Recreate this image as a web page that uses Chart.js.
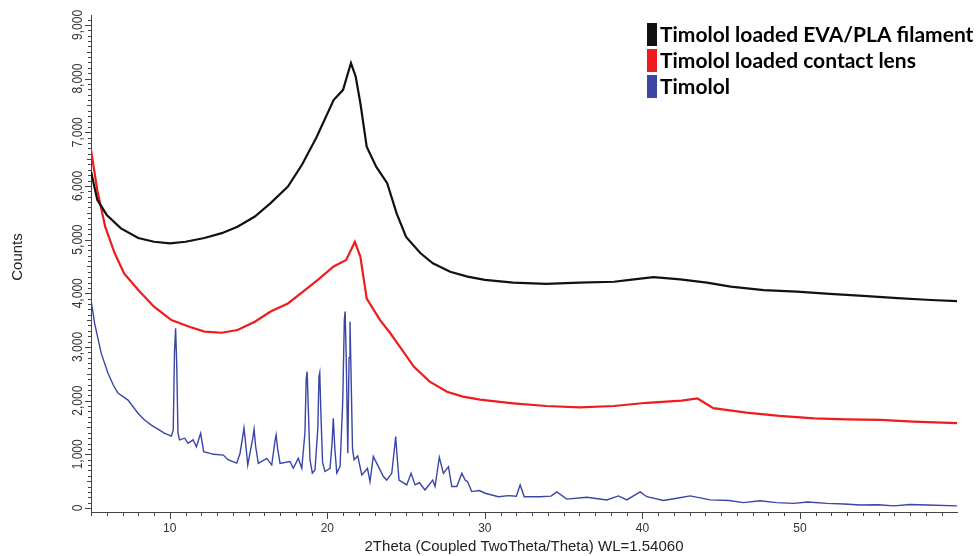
<!DOCTYPE html>
<html>
<head>
<meta charset="utf-8">
<script src="https://cdn.jsdelivr.net/npm/chart.js@4"></script>
<style>
  body { margin: 0; background: #fff; }
</style>
</head>
<body>
<canvas id="xrd" width="976" height="556"></canvas>
<script>
// values (2theta in degrees, counts)
const filamentTheta = [5, 5.4, 6, 6.9, 8, 9, 10, 11, 12.2, 13.3, 14.3, 15.4, 16.4, 17.5, 18.4, 19.3, 20.4, 21, 21.5, 21.8, 22.1, 22.5, 23.1, 23.8, 24.4, 25, 25.9, 26.7, 27.8, 28.9, 30, 31.8, 33.9, 36, 38.2, 39.2, 40.7, 42.4, 44.1, 45.6, 47.7, 49.8, 51.9, 54, 56.2, 58.3, 59.97];
const filamentCounts = [6270, 5740, 5460, 5210, 5030, 4960, 4930, 4960, 5030, 5120, 5240, 5430, 5680, 5990, 6400, 6900, 7600, 7790, 8290, 8040, 7540, 6730, 6360, 6050, 5490, 5050, 4750, 4560, 4400, 4310, 4250, 4200, 4175, 4200, 4215, 4250, 4300, 4260, 4200, 4125, 4060, 4030, 3990, 3950, 3910, 3875, 3855];

const lensTheta = [5, 5.4, 5.9, 6.5, 7.1, 8, 9, 10.1, 11.2, 12.2, 13.3, 14.3, 15.4, 16.4, 17.5, 18.5, 19.4, 20.4, 21.2, 21.75, 22.1, 22.5, 23.35, 24, 24.6, 25.5, 26.5, 27.6, 28.6, 29.7, 30.8, 31.8, 33.9, 36, 38.2, 40.3, 41.5, 42.5, 43.5, 44.5, 46.6, 48.7, 50.9, 53, 55.1, 57.2, 59.97];
const lensCounts = [6670, 5920, 5240, 4750, 4370, 4060, 3750, 3500, 3380, 3285, 3265, 3315, 3470, 3660, 3810, 4040, 4250, 4500, 4620, 4960, 4680, 3900, 3500, 3255, 3005, 2630, 2355, 2165, 2075, 2020, 1980, 1950, 1900, 1875, 1900, 1960, 1980, 2000, 2040, 1860, 1775, 1715, 1670, 1650, 1640, 1610, 1580];

const timololTheta = [5, 5.23, 5.65, 6.08, 6.4, 6.71, 7.35, 7.98, 8.4, 8.83, 9.3, 9.68, 10.1, 10.22, 10.3, 10.37, 10.44, 10.52, 10.62, 10.95, 11.16, 11.48, 11.69, 11.96, 12.15, 12.8, 13.4, 13.7, 14.25, 14.46, 14.64, 14.71, 14.8, 14.95, 15.27, 15.35, 15.45, 15.62, 16.16, 16.47, 16.68, 16.75, 16.85, 17, 17.63, 17.84, 18.16, 18.38, 18.58, 18.66, 18.72, 18.8, 18.9, 19.05, 19.22, 19.4, 19.47, 19.52, 19.6, 19.7, 19.85, 20.17, 20.3, 20.38, 20.48, 20.6, 20.81, 20.98, 21.08, 21.13, 21.2, 21.3, 21.38, 21.44, 21.5, 21.6, 21.7, 21.93, 22.19, 22.55, 22.71, 22.92, 23.14, 23.56, 23.77, 24.09, 24.28, 24.34, 24.42, 24.55, 25.04, 25.32, 25.57, 25.85, 26.2, 26.69, 26.84, 27.11, 27.37, 27.69, 27.9, 28.22, 28.54, 28.75, 28.9, 29.17, 29.65, 30.02, 30.86, 31.5, 32, 32.24, 32.5, 33.5, 34.2, 34.57, 35.2, 36.47, 37.74, 38.48, 39.01, 39.86, 40.28, 41.34, 42.19, 43.03, 44.3, 45.5, 46.41, 47.47, 48.5, 49.59, 50.5, 51.71, 52.8, 53.83, 55, 55.94, 57, 58.06, 59.97];
const timololCounts = [3880, 3440, 2880, 2510, 2300, 2140, 2010, 1765, 1640, 1545, 1460, 1390, 1340, 1450, 2900, 3350, 2700, 1400, 1270, 1300, 1205, 1270, 1140, 1390, 1050, 1000, 985, 900, 835, 1020, 1350, 1490, 1250, 800, 1300, 1470, 1150, 830, 925, 800, 1250, 1360, 1100, 830, 865, 740, 925, 740, 1400, 2400, 2540, 1800, 900, 650, 710, 1500, 2450, 2520, 1700, 850, 680, 740, 1200, 1670, 1100, 650, 770, 2000, 3500, 3660, 2800, 1020, 2800, 3470, 2600, 1100, 900, 970, 615, 740, 490, 960, 830, 585, 520, 645, 1150, 1330, 1000, 520, 430, 645, 430, 470, 335, 520, 400, 945, 645, 770, 400, 400, 645, 520, 490, 305, 325, 275, 210, 230, 220, 430, 210, 210, 220, 300, 165, 200, 150, 225, 150, 300, 210, 140, 180, 225, 150, 140, 100, 135, 100, 85, 110, 85, 75, 55, 60, 40, 65, 55, 40];

const seriesNames = ["Timolol loaded EVA/PLA filament", "Timolol loaded contact lens", "Timolol"];
const seriesColors = ["#111111", "#ee1c1c", "#3a45a6"];
const yTickValues = [0, 1000, 2000, 3000, 4000, 5000, 6000, 7000, 8000, 9000];

function pairs(xs, ys) {
  return xs.map((x, i) => ({ x: x, y: ys[i] }));
}

// axis ticks, rotated y labels, axis title and the boxed legend
const decorations = {
  id: "decorations",
  afterDraw(chart) {
    const ctx = chart.ctx;
    const x = chart.scales.x;
    const y = chart.scales.y;
    const area = chart.chartArea;
    ctx.save();
    ctx.strokeStyle = "#444";
    ctx.lineWidth = 1;

    // y ticks every 100 counts
    for (let v = 0; v <= 9100; v += 100) {
      const py = Math.round(y.getPixelForValue(v)) + 0.5;
      const len = v % 1000 === 0 ? 6 : (v % 500 === 0 ? 4 : 3);
      ctx.beginPath();
      ctx.moveTo(area.left, py);
      ctx.lineTo(area.left - len, py);
      ctx.stroke();
    }
    // x ticks every degree
    for (let v = 5; v <= 59; v++) {
      const px = Math.round(x.getPixelForValue(v)) + 0.5;
      const len = v % 10 === 0 ? 7 : 4;
      ctx.beginPath();
      ctx.moveTo(px, area.bottom);
      ctx.lineTo(px, area.bottom + len);
      ctx.stroke();
    }

    // y labels read upwards, glyphs a bit taller than wide as in the scan
    ctx.fillStyle = "#333";
    ctx.font = "12px 'Liberation Sans', Arial, sans-serif";
    ctx.textAlign = "center";
    ctx.textBaseline = "middle";
    yTickValues.forEach(v => {
      ctx.save();
      ctx.translate(78, y.getPixelForValue(v));
      ctx.rotate(-Math.PI / 2);
      ctx.scale(1, 1.2);
      ctx.fillText(v.toLocaleString("en-US"), 0, 0);
      ctx.restore();
    });

    ctx.fillStyle = "#222";
    ctx.font = "15px 'Liberation Sans', Arial, sans-serif";
    ctx.save();
    ctx.translate(18, 257);
    ctx.rotate(-Math.PI / 2);
    ctx.fillText("Counts", 0, 0);
    ctx.restore();

    // legend
    ctx.textAlign = "left";
    ctx.font = "bold 21px Lato, 'Open Sans', sans-serif";
    const rowTop = [23, 49, 75];
    seriesNames.forEach((name, i) => {
      ctx.fillStyle = seriesColors[i];
      ctx.fillRect(647, rowTop[i], 10, 23);
      ctx.fillStyle = "#000";
      ctx.fillText(name, 660, rowTop[i] + 12);
    });
    ctx.restore();
  }
};

new Chart(document.getElementById("xrd"), {
  type: "scatter",
  data: {
    datasets: [
      { label: seriesNames[0], data: pairs(filamentTheta, filamentCounts), borderColor: seriesColors[0], borderWidth: 2.2 },
      { label: seriesNames[1], data: pairs(lensTheta, lensCounts), borderColor: seriesColors[1], borderWidth: 2.2 },
      { label: seriesNames[2], data: pairs(timololTheta, timololCounts), borderColor: seriesColors[2], borderWidth: 1.4 }
    ]
  },
  options: {
    responsive: false,
    animation: false,
    showLine: true,
    elements: { point: { radius: 0, hoverRadius: 0 }, line: { tension: 0, fill: false } },
    layout: { padding: { top: 15, right: 19, left: 0, bottom: 0 } },
    plugins: { legend: { display: false }, tooltip: { enabled: false } },
    scales: {
      x: {
        type: "linear",
        min: 5,
        max: 59.97,
        grid: { display: false, drawTicks: false },
        border: { display: true, color: "#444", width: 1 },
        ticks: {
          stepSize: 10,
          includeBounds: false,
          autoSkip: false,
          maxRotation: 0,
          padding: 9,
          color: "#333",
          font: { family: "'Liberation Sans', Arial, sans-serif", size: 12 }
        },
        title: {
          display: true,
          text: "2Theta (Coupled TwoTheta/Theta) WL=1.54060",
          color: "#222",
          padding: { top: 0, bottom: 0 },
          font: { family: "'Liberation Sans', Arial, sans-serif", size: 15 }
        },
        afterFit(scale) { scale.height = 44; }
      },
      y: {
        min: -75,
        max: 9185,
        grid: { display: false, drawTicks: false },
        border: { display: true, color: "#444", width: 1 },
        ticks: { display: false },
        afterFit(scale) { scale.width = 91; }
      }
    }
  },
  plugins: [decorations]
});
</script>
</body>
</html>
